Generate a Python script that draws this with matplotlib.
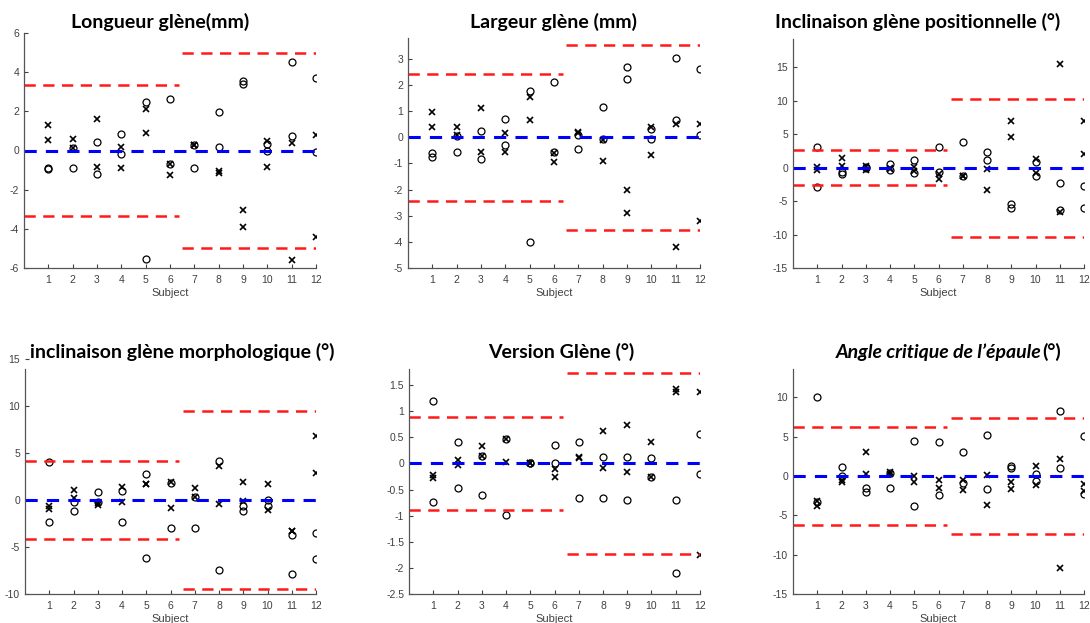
import matplotlib.pyplot as plt

plt.rcParams['font.family'] = ['Liberation Sans', 'DejaVu Sans']

subjects = list(range(1, 13))

# Longueur glène (mm)
longueur_o1 = [-0.9, 0.15, 0.45, 0.85, 2.5, 2.65, 0.3, 1.95, 3.55, 0.35, 4.5, 3.7]
longueur_o2 = [-0.95, -0.88, -1.2, -0.2, -5.55, -0.7, -0.9, 0.2, 3.4, 0.0, 0.75, -0.1]
longueur_x1 = [1.3, 0.6, 1.6, 0.2, 2.1, -0.7, 0.3, -1.05, -3.05, 0.5, 0.4, 0.8]
longueur_x2 = [0.55, 0.15, -0.85, -0.9, 0.9, -1.25, 0.3, -1.15, -3.9, -0.85, -5.6, -4.4]
longueur_lim = [3.33, 5.0]

# Largeur glène (mm)
largeur_o1 = [-0.6, 0.05, 0.25, 0.7, 1.78, 2.12, 0.1, 1.15, 2.7, 0.3, 3.02, 2.6]
largeur_o2 = [-0.75, -0.57, -0.83, -0.3, -4.02, -0.57, -0.45, -0.07, 2.22, -0.05, 0.65, 0.1]
largeur_x1 = [0.95, 0.4, 1.12, 0.15, 1.55, -0.6, 0.2, -0.12, -2.02, 0.4, 0.5, 0.5]
largeur_x2 = [0.38, 0.08, -0.57, -0.57, 0.67, -0.95, 0.15, -0.92, -2.9, -0.67, -4.2, -3.2]
largeur_lim = [2.42, 3.55]

# Inclinaison glène positionnelle
incl_pos_o1 = [3.0, -0.7, 0.1, 0.6, 1.2, 3.0, 3.8, 2.3, -5.4, 0.8, -2.3, -2.8]
incl_pos_o2 = [-2.9, -1.0, 0.0, -0.3, -0.8, -0.6, -1.3, 1.1, -6.1, -1.2, -6.3, -6.1]
incl_pos_x1 = [0.1, 1.5, 0.3, 0.0, 0.1, -0.9, -1.3, -0.2, 6.9, 1.3, 15.4, 6.9]
incl_pos_x2 = [-0.3, 0.2, -0.3, -0.2, -0.5, -1.7, -1.3, -3.3, 4.6, -0.8, -6.7, 2.0]
incl_pos_lim = [2.6, 10.3]

# inclinaison glène morphologique
incl_morph_o1 = [4.0, -0.2, 0.85, 1.0, 2.8, 1.8, 0.3, 4.1, -0.6, 0.0, -3.7, -3.5]
incl_morph_o2 = [-2.35, -1.15, -0.2, -2.35, -6.2, -3.0, -2.95, -7.45, -1.2, -0.6, -7.9, -6.25]
incl_morph_x1 = [-0.6, 1.1, -0.3, 1.4, 1.65, 1.9, 1.25, 3.6, 1.9, 1.7, -3.25, 6.8]
incl_morph_x2 = [-1.0, 0.2, -0.5, -0.2, 1.7, -0.9, 0.3, -0.4, -0.1, -1.1, -3.3, 2.9]
incl_morph_lim = [4.2, 9.5]

# Version glène
version_o1 = [1.2, 0.42, 0.14, 0.47, 0.0, 0.36, 0.42, 0.12, 0.12, 0.1, -0.7, 0.57]
version_o2 = [-0.73, -0.47, -0.6, -0.99, 0.0, 0.0, -0.67, -0.67, -0.7, -0.26, -2.09, -0.2]
version_x1 = [-0.22, 0.07, 0.33, 0.47, 0.0, -0.1, 0.12, 0.62, 0.74, 0.41, 1.43, 1.37]
version_x2 = [-0.27, -0.02, 0.14, 0.03, 0.01, -0.25, 0.11, -0.09, -0.17, -0.26, 1.37, -1.76]
version_lim = [0.9, 1.73]

# Angle critique de l'épaule
acromial_o1 = [10.1, 1.2, -1.5, 0.4, 4.5, 4.3, 3.1, 5.2, 1.3, 0.2, 8.3, 5.1]
acromial_o2 = [-3.35, 0.0, -2.0, -1.5, -3.8, -2.4, -0.9, -1.7, 1.0, -0.6, 1.0, -2.3]
acromial_x1 = [-3.2, -0.5, 3.1, 0.5, 0.0, -0.5, -0.5, 0.1, -0.7, 1.3, 2.2, -1.0]
acromial_x2 = [-3.8, -0.8, 0.3, 0.3, -0.8, -1.5, -1.8, -3.7, -1.7, -1.1, -11.7, -1.9]
acromial_lim = [6.2, 7.4]

W, H = 1090, 623
fig = plt.figure(figsize=(W / 100, H / 100), dpi=100)


def rect(left, right, top, bottom):
    return [left / W, 1 - bottom / H, (right - left) / W, (bottom - top) / H]


panels = [
    (rect(24, 316, 33, 268), longueur_o1, longueur_o2, longueur_x1, longueur_x2,
     longueur_lim, (-6, 6), range(-6, 7, 2), 6),
    (rect(408, 700, 38, 268), largeur_o1, largeur_o2, largeur_x1, largeur_x2,
     largeur_lim, (-5, 3.8), range(-5, 4), 3.8),
    (rect(793, 1084, 39, 268), incl_pos_o1, incl_pos_o2, incl_pos_x1, incl_pos_x2,
     incl_pos_lim, (-15, 19.2), range(-15, 16, 5), 19.2),
    (rect(25, 316, 359, 594), incl_morph_o1, incl_morph_o2, incl_morph_x1, incl_morph_x2,
     incl_morph_lim, (-10, 15), range(-10, 16, 5), 13.9),
    (rect(409, 700, 369, 594), version_o1, version_o2, version_x1, version_x2,
     version_lim, (-2.5, 1.81), [-2.5, -2, -1.5, -1, -0.5, 0, 0.5, 1, 1.5], 1.81),
    (rect(793, 1084, 369, 594), acromial_o1, acromial_o2, acromial_x1, acromial_x2,
     acromial_lim, (-15, 13.6), range(-15, 11, 5), 13.6),
]

grey = '#404040'
for pos, o1, o2, x1, x2, lim, ylim, yticks, spine_top in panels:
    ax = fig.add_axes(pos)
    ax.plot(subjects, o1, 'o', mfc='none', mec='black', ms=5, mew=0.9)
    ax.plot(subjects, o2, 'o', mfc='none', mec='black', ms=5, mew=0.9)
    ax.plot(subjects, x1, 'x', color='black', ms=3.7, mew=1.2)
    ax.plot(subjects, x2, 'x', color='black', ms=3.7, mew=1.2)
    # limites d'accord (deux groupes de sujets)
    for s in (1, -1):
        ax.plot([0, 6.35], [s * lim[0]] * 2, '--', color='#ff1a1a', lw=1.8, dashes=(4.5, 3))
        ax.plot([6.5, 12], [s * lim[1]] * 2, '--', color='#ff1a1a', lw=1.8, dashes=(4.5, 3))
    ax.plot([0, 12], [0, 0], '--', color='#0000ff', lw=2.2, dashes=(4, 3))
    ax.set_xlim(0, 12)
    ax.set_ylim(*ylim)
    ax.set_xticks(subjects)
    ax.set_yticks(list(yticks))
    ax.set_yticklabels([f'{v:g}' for v in yticks])
    ax.spines['top'].set_visible(False)
    ax.spines['right'].set_visible(False)
    ax.spines['left'].set_bounds(ylim[0], spine_top)
    for sp in ('left', 'bottom'):
        ax.spines[sp].set_color('#555555')
        ax.spines[sp].set_linewidth(0.9)
    ax.tick_params(direction='in', length=3, labelsize=7.5, colors=grey)
    ax.tick_params(axis='x', pad=5)
    ax.set_xlabel('Subject', fontsize=8, color=grey, labelpad=2)

tfont = ['Lato', 'DejaVu Sans']
tsize = 14
fig.text(160 / W, 1 - 22 / H, 'Longueur glène(mm)', ha='center', va='center',
         fontsize=tsize, fontweight='bold', family=tfont)
fig.text(554 / W, 1 - 22 / H, 'Largeur glène (mm)', ha='center', va='center',
         fontsize=tsize, fontweight='bold', family=tfont)
fig.text(918 / W, 1 - 22 / H, 'Inclinaison glène positionnelle (°)', ha='center', va='center',
         fontsize=tsize, fontweight='bold', family=tfont)
fig.text(182 / W, 1 - 352 / H, 'inclinaison glène morphologique (°)', ha='center', va='center',
         fontsize=tsize, fontweight='bold', family=tfont)
fig.text(561 / W, 1 - 352 / H, 'Version Glène (°)', ha='center', va='center',
         fontsize=tsize, fontweight='bold', family=tfont)
fig.text(1042 / W, 1 - 352 / H, 'Angle critique de l’épaule', ha='right', va='center',
         fontsize=tsize, fontweight='bold', style='italic', family=tfont)
fig.text(1042 / W, 1 - 352 / H, '(°)', ha='left', va='center',
         fontsize=tsize, fontweight='bold', family=tfont)

fig.savefig('out.png', dpi=100)
